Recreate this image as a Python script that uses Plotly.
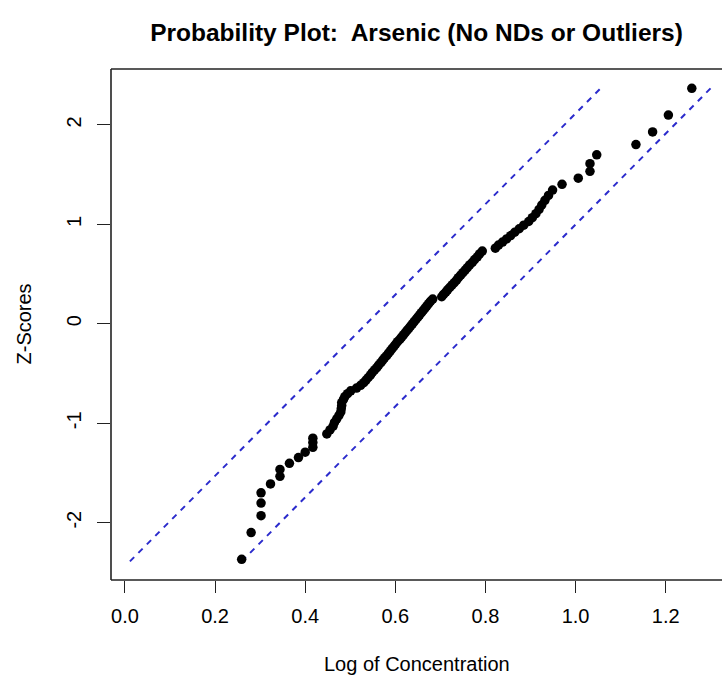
import plotly.graph_objects as go

title_text = "Probability Plot:\u00a0 Arsenic (No NDs or Outliers)"
x_label = "Log of Concentration"
y_label = "Z-Scores"

# Ordered log concentrations (x)
log_conc = [
    0.259, 0.280, 0.302, 0.302, 0.302, 0.323, 0.344, 0.344, 0.365, 0.385,
    0.400, 0.417, 0.417, 0.417, 0.448, 0.455, 0.462, 0.465, 0.470, 0.475,
    0.479, 0.480, 0.481, 0.481, 0.485, 0.488, 0.494, 0.501, 0.514, 0.523,
    0.530, 0.535, 0.540, 0.545, 0.549, 0.554, 0.559, 0.563, 0.568, 0.572,
    0.576, 0.581, 0.585, 0.589, 0.593, 0.597, 0.601, 0.605, 0.610, 0.614,
    0.618, 0.622, 0.626, 0.630, 0.634, 0.638, 0.642, 0.646, 0.650, 0.654,
    0.658, 0.662, 0.666, 0.670, 0.674, 0.678, 0.683, 0.703, 0.707, 0.712,
    0.716, 0.721, 0.726, 0.731, 0.736, 0.740, 0.745, 0.750, 0.755, 0.760,
    0.765, 0.771, 0.776, 0.782, 0.787, 0.793, 0.822, 0.829, 0.838, 0.847,
    0.856, 0.865, 0.875, 0.885, 0.896, 0.904, 0.912, 0.919, 0.925, 0.932,
    0.940, 0.949, 0.970, 1.006, 1.032, 1.032, 1.047, 1.134, 1.171, 1.206,
    1.258,
]

# Z-scores (y)
z_scores = [
    -2.369, -2.100, -1.930, -1.803, -1.700, -1.611, -1.534, -1.465, -1.403, -1.345,
    -1.291, -1.242, -1.195, -1.150, -1.108, -1.068, -1.029, -0.992, -0.956, -0.921,
    -0.887, -0.854, -0.822, -0.792, -0.761, -0.732, -0.703, -0.674, -0.646, -0.619,
    -0.592, -0.566, -0.540, -0.514, -0.489, -0.464, -0.440, -0.415, -0.391, -0.366,
    -0.342, -0.319, -0.295, -0.272, -0.249, -0.226, -0.203, -0.180, -0.157, -0.135,
    -0.112, -0.090, -0.067, -0.045, -0.022, 0.000, 0.022, 0.045, 0.067, 0.090,
    0.112, 0.135, 0.157, 0.180, 0.203, 0.226, 0.249, 0.272, 0.295, 0.319,
    0.342, 0.366, 0.391, 0.415, 0.440, 0.464, 0.489, 0.514, 0.540, 0.566,
    0.592, 0.619, 0.646, 0.674, 0.703, 0.732, 0.761, 0.792, 0.822, 0.854,
    0.887, 0.921, 0.956, 0.992, 1.029, 1.068, 1.108, 1.150, 1.195, 1.242,
    1.291, 1.345, 1.403, 1.465, 1.534, 1.611, 1.700, 1.803, 1.930, 2.100,
    2.369,
]

# Dashed confidence bands
upper_band_x = [0.011, 1.056]
lower_band_x = [0.259, 1.300]
band_z = [-2.39, 2.37]

x_ticks = [0.0, 0.2, 0.4, 0.6, 0.8, 1.0, 1.2]
x_tick_labels = ["0.0", "0.2", "0.4", "0.6", "0.8", "1.0", "1.2"]
y_ticks = [-2, -1, 0, 1, 2]
y_tick_labels = ["-2", "-1", "0", "1", "2"]

FONT = "Liberation Sans, Arial, sans-serif"
band_color = "#2b2bcc"

fig = go.Figure()
for bx in (upper_band_x, lower_band_x):
    fig.add_trace(go.Scatter(
        x=bx, y=band_z, mode="lines",
        line=dict(color=band_color, width=2, dash="6px,6px"),
        hoverinfo="skip", showlegend=False,
    ))
fig.add_trace(go.Scatter(
    x=log_conc, y=z_scores, mode="markers",
    marker=dict(color="black", size=9.5, line=dict(width=0)),
    showlegend=False,
))

fig.update_layout(
    width=722, height=677,
    margin=dict(l=111, r=0, t=69, b=97),
    paper_bgcolor="white", plot_bgcolor="white",
    font=dict(family=FONT, color="black", size=20),
    title=dict(
        text="<b>" + title_text + "</b>",
        font=dict(family=FONT, size=24.5, color="black"),
        x=0.5, xref="paper", xanchor="center",
        y=1 - 32 / 677, yref="container", yanchor="middle",
    ),
    xaxis=dict(
        range=[-0.031, 1.325], showgrid=False, zeroline=False,
        tickmode="array", tickvals=x_ticks, ticktext=x_tick_labels,
        ticks="outside", ticklen=12, tickwidth=1.3, tickcolor="#222",
        showline=False, tickfont=dict(size=20, family=FONT),
        ticklabelstandoff=6,
    ),
    yaxis=dict(
        range=[-2.577, 2.563], showgrid=False, zeroline=False,
        tickmode="array", tickvals=y_ticks, ticktext=y_tick_labels,
        ticks="outside", ticklen=13, tickwidth=1.3, tickcolor="#222",
        tickangle=-90, showline=False, tickfont=dict(size=20, family=FONT),
        ticklabelstandoff=8,
    ),
    shapes=[
        dict(type="line", xref="paper", yref="paper", x0=0, x1=0, y0=0, y1=1,
             line=dict(color="#222", width=1.6)),
        dict(type="line", xref="paper", yref="paper", x0=0, x1=1, y0=1, y1=1,
             line=dict(color="#222", width=1.6)),
        dict(type="line", xref="paper", yref="paper", x0=0, x1=1, y0=0, y1=0,
             line=dict(color="#222", width=1.6)),
    ],
    annotations=[
        dict(text=x_label, xref="paper", yref="paper", x=0.5, y=(580 - 664) / 511,
             xanchor="center", yanchor="middle", showarrow=False,
             font=dict(size=20, family=FONT)),
        dict(text=y_label, xref="paper", yref="paper", x=(23 - 111) / 611, y=0.5,
             xanchor="center", yanchor="middle", showarrow=False, textangle=-90,
             font=dict(size=20, family=FONT)),
    ],
)

fig.write_html("out.html", config={"displayModeBar": False},
               post_script="document.body.style.margin='0px';")
